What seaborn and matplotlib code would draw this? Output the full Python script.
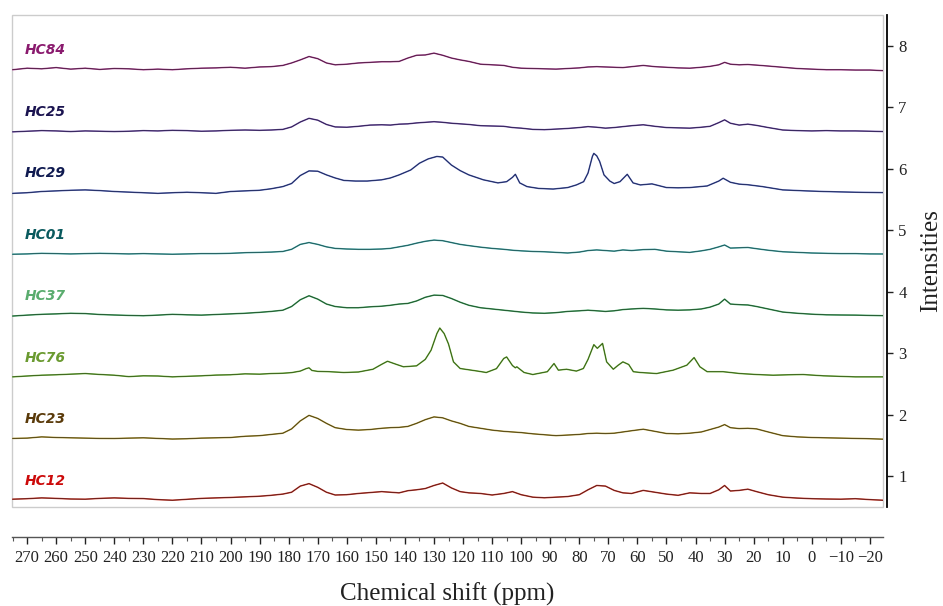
import seaborn as sns
import pandas as pd
import matplotlib.pyplot as plt
from matplotlib.patches import Rectangle
from matplotlib.ticker import MultipleLocator

# shared ppm grid for the smoother spectra
ppm_common = [275, 270, 265, 260, 255, 250, 245, 240, 235, 230,
              225, 220, 215, 210, 205, 200, 195, 190, 186, 182,
              179, 176, 173, 170, 167, 164, 160, 156, 152, 148,
              145, 142, 139, 136, 133, 130, 127, 124, 121, 118,
              114, 110, 106, 103, 100, 96, 92, 88, 84, 80,
              77, 74, 71, 68, 65, 62, 58, 54, 50, 46,
              42, 38, 35, 32, 30, 28, 25, 22, 19, 15,
              10, 5, 0, -5, -10, -15, -20, -24.5]

hc84 = [0.01, 0.035, 0.025, 0.045, 0.02, 0.035, 0.015, 0.03, 0.025, 0.01,
        0.02, 0.01, 0.025, 0.035, 0.04, 0.05, 0.035, 0.055, 0.06, 0.08,
        0.12, 0.17, 0.225, 0.19, 0.12, 0.09, 0.10, 0.12, 0.13, 0.14,
        0.14, 0.145, 0.20, 0.245, 0.25, 0.28, 0.245, 0.20, 0.17, 0.145,
        0.10, 0.09, 0.08, 0.05, 0.035, 0.03, 0.025, 0.02, 0.03, 0.04,
        0.055, 0.06, 0.055, 0.05, 0.045, 0.06, 0.08, 0.06, 0.05, 0.04,
        0.035, 0.05, 0.065, 0.09, 0.13, 0.10, 0.09, 0.095, 0.085, 0.07,
        0.05, 0.03, 0.02, 0.01, 0.01, 0.005, 0.005, -0.005]

hc25 = [0.0, 0.01, 0.02, 0.015, 0.005, 0.015, 0.01, 0.005, 0.01, 0.02,
        0.015, 0.025, 0.02, 0.01, 0.015, 0.025, 0.03, 0.025, 0.03, 0.04,
        0.08, 0.16, 0.22, 0.19, 0.12, 0.08, 0.075, 0.09, 0.11, 0.115,
        0.11, 0.125, 0.13, 0.145, 0.155, 0.165, 0.155, 0.14, 0.13, 0.12,
        0.10, 0.095, 0.09, 0.07, 0.06, 0.04, 0.035, 0.045, 0.055, 0.07,
        0.085, 0.075, 0.06, 0.07, 0.085, 0.10, 0.115, 0.09, 0.07, 0.065,
        0.06, 0.075, 0.09, 0.15, 0.195, 0.14, 0.11, 0.125, 0.105, 0.07,
        0.03, 0.02, 0.015, 0.02, 0.015, 0.015, 0.01, 0.005]

hc01 = [0.01, 0.015, 0.025, 0.02, 0.015, 0.02, 0.025, 0.02, 0.015, 0.02,
        0.015, 0.01, 0.015, 0.02, 0.02, 0.025, 0.035, 0.04, 0.045, 0.055,
        0.09, 0.17, 0.20, 0.17, 0.13, 0.105, 0.095, 0.09, 0.09, 0.095,
        0.105, 0.13, 0.155, 0.19, 0.22, 0.24, 0.23, 0.20, 0.17, 0.15,
        0.125, 0.105, 0.09, 0.075, 0.065, 0.055, 0.05, 0.04, 0.03, 0.045,
        0.07, 0.08, 0.07, 0.06, 0.08, 0.07, 0.085, 0.09, 0.06, 0.05,
        0.04, 0.065, 0.09, 0.13, 0.16, 0.11, 0.115, 0.12, 0.10, 0.075,
        0.05, 0.04, 0.03, 0.025, 0.02, 0.02, 0.015, 0.014]

hc37 = [0.005, 0.02, 0.033, 0.04, 0.05, 0.045, 0.03, 0.022, 0.015, 0.01,
        0.02, 0.033, 0.025, 0.02, 0.03, 0.04, 0.05, 0.065, 0.08, 0.10,
        0.16, 0.27, 0.335, 0.28, 0.20, 0.16, 0.14, 0.14, 0.155, 0.165,
        0.18, 0.20, 0.21, 0.25, 0.31, 0.345, 0.34, 0.29, 0.23, 0.18,
        0.14, 0.12, 0.10, 0.085, 0.07, 0.055, 0.05, 0.06, 0.08, 0.09,
        0.10, 0.09, 0.08, 0.09, 0.11, 0.12, 0.13, 0.12, 0.105, 0.10,
        0.105, 0.12, 0.15, 0.20, 0.28, 0.20, 0.19, 0.185, 0.16, 0.12,
        0.07, 0.05, 0.035, 0.025, 0.022, 0.02, 0.015, 0.011]

hc23 = [0.015, 0.02, 0.04, 0.03, 0.025, 0.02, 0.015, 0.014, 0.02, 0.025,
        0.015, 0.005, 0.01, 0.02, 0.025, 0.03, 0.05, 0.06, 0.08, 0.10,
        0.17, 0.30, 0.39, 0.34, 0.26, 0.19, 0.16, 0.15, 0.16, 0.18,
        0.19, 0.195, 0.21, 0.26, 0.32, 0.365, 0.35, 0.30, 0.26, 0.21,
        0.18, 0.15, 0.13, 0.12, 0.11, 0.09, 0.075, 0.06, 0.07, 0.08,
        0.095, 0.10, 0.095, 0.10, 0.12, 0.14, 0.165, 0.13, 0.095, 0.09,
        0.10, 0.12, 0.16, 0.20, 0.24, 0.19, 0.175, 0.18, 0.17, 0.12,
        0.06, 0.04, 0.03, 0.025, 0.02, 0.015, 0.01, 0.003]

hc12 = [0.027, 0.035, 0.048, 0.04, 0.03, 0.027, 0.04, 0.048, 0.04, 0.037,
        0.02, 0.01, 0.025, 0.04, 0.048, 0.055, 0.065, 0.075, 0.09, 0.11,
        0.14, 0.24, 0.28, 0.22, 0.14, 0.095, 0.10, 0.12, 0.135, 0.15,
        0.14, 0.13, 0.165, 0.18, 0.20, 0.25, 0.29, 0.21, 0.15, 0.13,
        0.12, 0.095, 0.12, 0.15, 0.10, 0.06, 0.05, 0.06, 0.07, 0.10,
        0.18, 0.25, 0.24, 0.17, 0.13, 0.12, 0.17, 0.14, 0.11, 0.09,
        0.13, 0.12, 0.12, 0.18, 0.25, 0.16, 0.17, 0.19, 0.15, 0.10,
        0.06, 0.045, 0.035, 0.03, 0.027, 0.035, 0.02, 0.01]

# sharper spectra get their own ppm points
ppm_hc29 = [275, 270, 265, 260, 255, 250, 245, 240, 235, 230,
            225, 220, 215, 210, 205, 200, 195, 190, 186, 182,
            179, 176, 173, 170, 167, 164, 161, 157, 153, 148,
            145, 142, 138, 135, 132, 129, 127, 124, 121, 118,
            113, 108, 105, 103, 102, 100.5, 98, 94, 89, 84,
            81, 78.5, 77, 75.5, 75, 74, 73, 71.5, 69.5, 68,
            66, 63.5, 61.5, 59, 55, 50, 46, 42, 36, 32,
            30.5, 28, 25, 22, 17, 10, 2, -4, -15, -24.5]
hc29 = [0.0, 0.01, 0.03, 0.04, 0.05, 0.056, 0.045, 0.03, 0.02, 0.01,
        0.0, 0.01, 0.018, 0.01, 0.0, 0.03, 0.04, 0.05, 0.075, 0.11,
        0.16, 0.29, 0.365, 0.36, 0.30, 0.25, 0.21, 0.20, 0.20, 0.22,
        0.25, 0.30, 0.38, 0.49, 0.56, 0.60, 0.59, 0.46, 0.37, 0.30,
        0.22, 0.17, 0.19, 0.26, 0.31, 0.17, 0.11, 0.08, 0.07, 0.094,
        0.137, 0.19, 0.33, 0.60, 0.65, 0.61, 0.52, 0.30, 0.20, 0.16,
        0.19, 0.31, 0.17, 0.137, 0.154, 0.094, 0.09, 0.094, 0.12, 0.20,
        0.246, 0.18, 0.15, 0.14, 0.11, 0.056, 0.04, 0.03, 0.018, 0.012]

ppm_hc76 = [275, 270, 265, 260, 255, 250, 245, 240, 235, 230,
            225, 220, 215, 210, 205, 200, 195, 190, 186, 182,
            179, 176, 174, 173, 172, 170, 166, 161, 156, 151,
            148, 146, 143, 140.5, 136, 133, 131, 129, 128, 126.5,
            125, 123.3, 121, 115, 112, 108.5, 106, 105, 103, 102,
            101.5, 99, 96, 91, 88.7, 87.2, 84.4, 81, 78.6, 77,
            76, 75, 73.8, 72, 70.6, 68.3, 66.6, 65, 63, 61.4,
            59, 53.4, 47.7, 43, 40.5, 38.5, 36, 30.5, 24.7, 19,
            13.3, 8, 3, -4, -15, -24.5]
hc76 = [0.016, 0.03, 0.043, 0.05, 0.06, 0.07, 0.055, 0.043, 0.02, 0.033,
        0.03, 0.016, 0.025, 0.033, 0.045, 0.05, 0.065, 0.06, 0.07, 0.075,
        0.085, 0.11, 0.15, 0.163, 0.12, 0.105, 0.10, 0.087, 0.095, 0.14,
        0.22, 0.27, 0.22, 0.18, 0.195, 0.30, 0.45, 0.72, 0.81, 0.72,
        0.55, 0.26, 0.152, 0.11, 0.087, 0.15, 0.315, 0.34, 0.20, 0.163,
        0.18, 0.087, 0.054, 0.10, 0.233, 0.125, 0.14, 0.11, 0.152, 0.30,
        0.42, 0.54, 0.48, 0.56, 0.26, 0.14, 0.206, 0.26, 0.217, 0.10,
        0.087, 0.07, 0.125, 0.206, 0.33, 0.18, 0.10, 0.10, 0.07, 0.054,
        0.043, 0.05, 0.054, 0.033, 0.016, 0.016]

samples = ["HC12", "HC23", "HC76", "HC37", "HC01", "HC29", "HC25", "HC84"]
offsets = [0.6, 1.6, 2.6, 3.6, 4.6, 5.6, 6.6, 7.6]
line_colors = ["#d04a3a", "#b09a3a", "#7ab84a", "#4aaa6a", "#4aaaaa", "#5a6ab8", "#7a5aaa", "#b0509a"]
dark_colors = ["#4a1010", "#3a3010", "#2a4a10", "#1a4020", "#1a4848", "#141c48", "#1e1440", "#3a1230"]
label_colors = ["#cc0a0a", "#5a3a0a", "#6a9a30", "#5aac6e", "#0a5a5e", "#0f1a50", "#1b1450", "#8a1a6e"]

series = {"HC12": (ppm_common, hc12), "HC23": (ppm_common, hc23),
          "HC76": (ppm_hc76, hc76), "HC37": (ppm_common, hc37),
          "HC01": (ppm_common, hc01), "HC29": (ppm_hc29, hc29),
          "HC25": (ppm_common, hc25), "HC84": (ppm_common, hc84)}

rows = []
for name, off in zip(samples, offsets):
    xs, ys = series[name]
    for x, y in zip(xs, ys):
        rows.append({"ppm": x, "intensity": y + off, "sample": name})
df = pd.DataFrame(rows)

sns.set_theme(style="white")
plt.rcParams["font.family"] = ["Liberation Serif", "DejaVu Serif"]

fig = plt.figure(figsize=(9.43, 6.06), dpi=100)
ax = fig.add_axes([12 / 943, 1 - 507 / 606, 871 / 943, 492 / 606])

sns.lineplot(data=df, x="ppm", y="intensity", hue="sample", estimator=None,
             palette=dict(zip(samples, line_colors)), linewidth=1.1,
             legend=False, ax=ax)
sns.lineplot(data=df, x="ppm", y="intensity", hue="sample", estimator=None,
             palette=dict(zip(samples, dark_colors)), linewidth=0.5,
             legend=False, ax=ax)

for name, off, c in zip(samples, offsets, label_colors):
    ax.text(271.0, off + 0.33, name, color=c, fontsize=10, fontweight="bold",
            fontstyle="italic", family="DejaVu Sans", ha="left", va="center")

ax.set_xlim(275.2, -24.5)
ax.set_ylim(0.5, 8.5)

# light frame round the plotting area
ax.add_patch(Rectangle((0, 0), 1, 1, transform=ax.transAxes, fill=False,
                       edgecolor="#cccccc", linewidth=1, clip_on=False))
ax.spines["top"].set_visible(False)
ax.spines["left"].set_visible(False)

# right intensity axis
ax.spines["right"].set_position(("outward", 3))
ax.spines["right"].set_color("black")
ax.spines["right"].set_linewidth(1.3)
ax.yaxis.tick_right()
ax.yaxis.set_label_position("right")
ax.set_yticks(range(1, 9))
ax.tick_params(axis="y", direction="out", length=4, width=1, colors="#222222",
               labelsize=12, pad=4)
ax.set_ylabel("Intensities", fontsize=18, labelpad=10, color="#222222")

# detached ppm axis below the frame
ax.spines["bottom"].set_position(("outward", 21.6))
ax.spines["bottom"].set_color("#555555")
ax.spines["bottom"].set_linewidth(1)
ax.set_xticks(range(270, -21, -10))
ax.xaxis.set_minor_locator(MultipleLocator(5))
ax.tick_params(axis="x", which="major", direction="out", length=5, width=1,
               colors="#222222", labelsize=12, pad=4, bottom=True)
ax.tick_params(axis="x", which="minor", direction="out", length=3, width=0.8,
               colors="#555555", bottom=True)
ax.set_xlabel("Chemical shift (ppm)", fontsize=18, labelpad=12, color="#222222")

fig.savefig("out.png", dpi=100)
